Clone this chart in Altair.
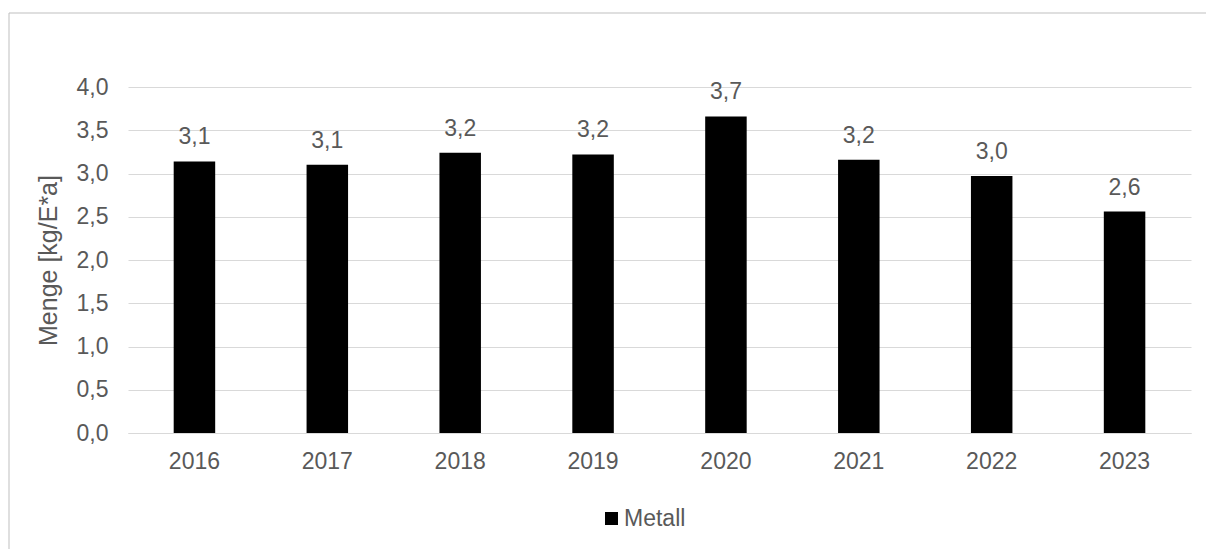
import altair as alt
import pandas as pd

years = ["2016", "2017", "2018", "2019", "2020", "2021", "2022", "2023"]
values = [3.14, 3.10, 3.24, 3.22, 3.66, 3.16, 2.97, 2.56]
series = ["Metall"] * len(years)
y_ticks = [0, 0.5, 1.0, 1.5, 2.0, 2.5, 3.0, 3.5, 4.0]

df = pd.DataFrame({"Jahr": years, "Menge": values, "Serie": series})

FONT = "Liberation Sans"
GRAY = "#595959"
FS = 23

frame = alt.Chart(pd.DataFrame({"a": [0]})).mark_rect(
    fill="white", fillOpacity=0, stroke="#bfbfbf", strokeWidth=1
).encode(
    x=alt.value(-119), x2=alt.value(1150), y=alt.value(-74), y2=alt.value(520)
)

base = alt.Chart(df)

bars = base.mark_bar(size=41.5).encode(
    x=alt.X("Jahr:N", sort=years, title=None,
            scale=alt.Scale(paddingInner=0, paddingOuter=0),
            axis=alt.Axis(labelAngle=0, ticks=False, grid=False,
                          domainColor="#d9d9d9",
                          labelFontSize=FS, labelColor=GRAY, labelFont=FONT,
                          labelPadding=17)),
    y=alt.Y("Menge:Q", title="Menge [kg/E*a]",
            scale=alt.Scale(domain=[0, 4]),
            axis=alt.Axis(values=y_ticks, domain=False, ticks=False,
                          gridColor="#d9d9d9", gridWidth=1,
                          labelExpr="replace(format(datum.value, '.1f'), '.', ',')",
                          labelFontSize=FS, labelColor=GRAY, labelFont=FONT,
                          labelPadding=20, titleFontSize=25, titleFont=FONT,
                          titleColor=GRAY, titleFontWeight="normal",
                          titlePadding=15)),
    color=alt.Color("Serie:N", scale=alt.Scale(range=["#000000"]),
                    legend=alt.Legend(title=None, orient="none",
                                      legendX=472, legendY=420,
                                      symbolType="square", symbolSize=169,
                                      symbolStrokeWidth=0,
                                      labelFontSize=FS, labelColor=GRAY,
                                      labelFont=FONT, labelOffset=1)),
)

labels = base.transform_calculate(
    lab="replace(format(datum.Menge, '.1f'), '.', ',')"
).mark_text(font=FONT, fontSize=FS, color=GRAY, baseline="alphabetic", dy=-17).encode(
    x=alt.X("Jahr:N", sort=years),
    y="Menge:Q",
    text="lab:N",
)

chart = alt.layer(frame, bars, labels).properties(
    width=1063, height=346,
    autosize=alt.AutoSizeParams(type="none"),
    padding={"left": 120, "top": 79, "right": 15, "bottom": 116},
).configure(background="white").configure_view(stroke=None)

chart.save("out.html", embed_options={"renderer": "svg", "actions": False})
